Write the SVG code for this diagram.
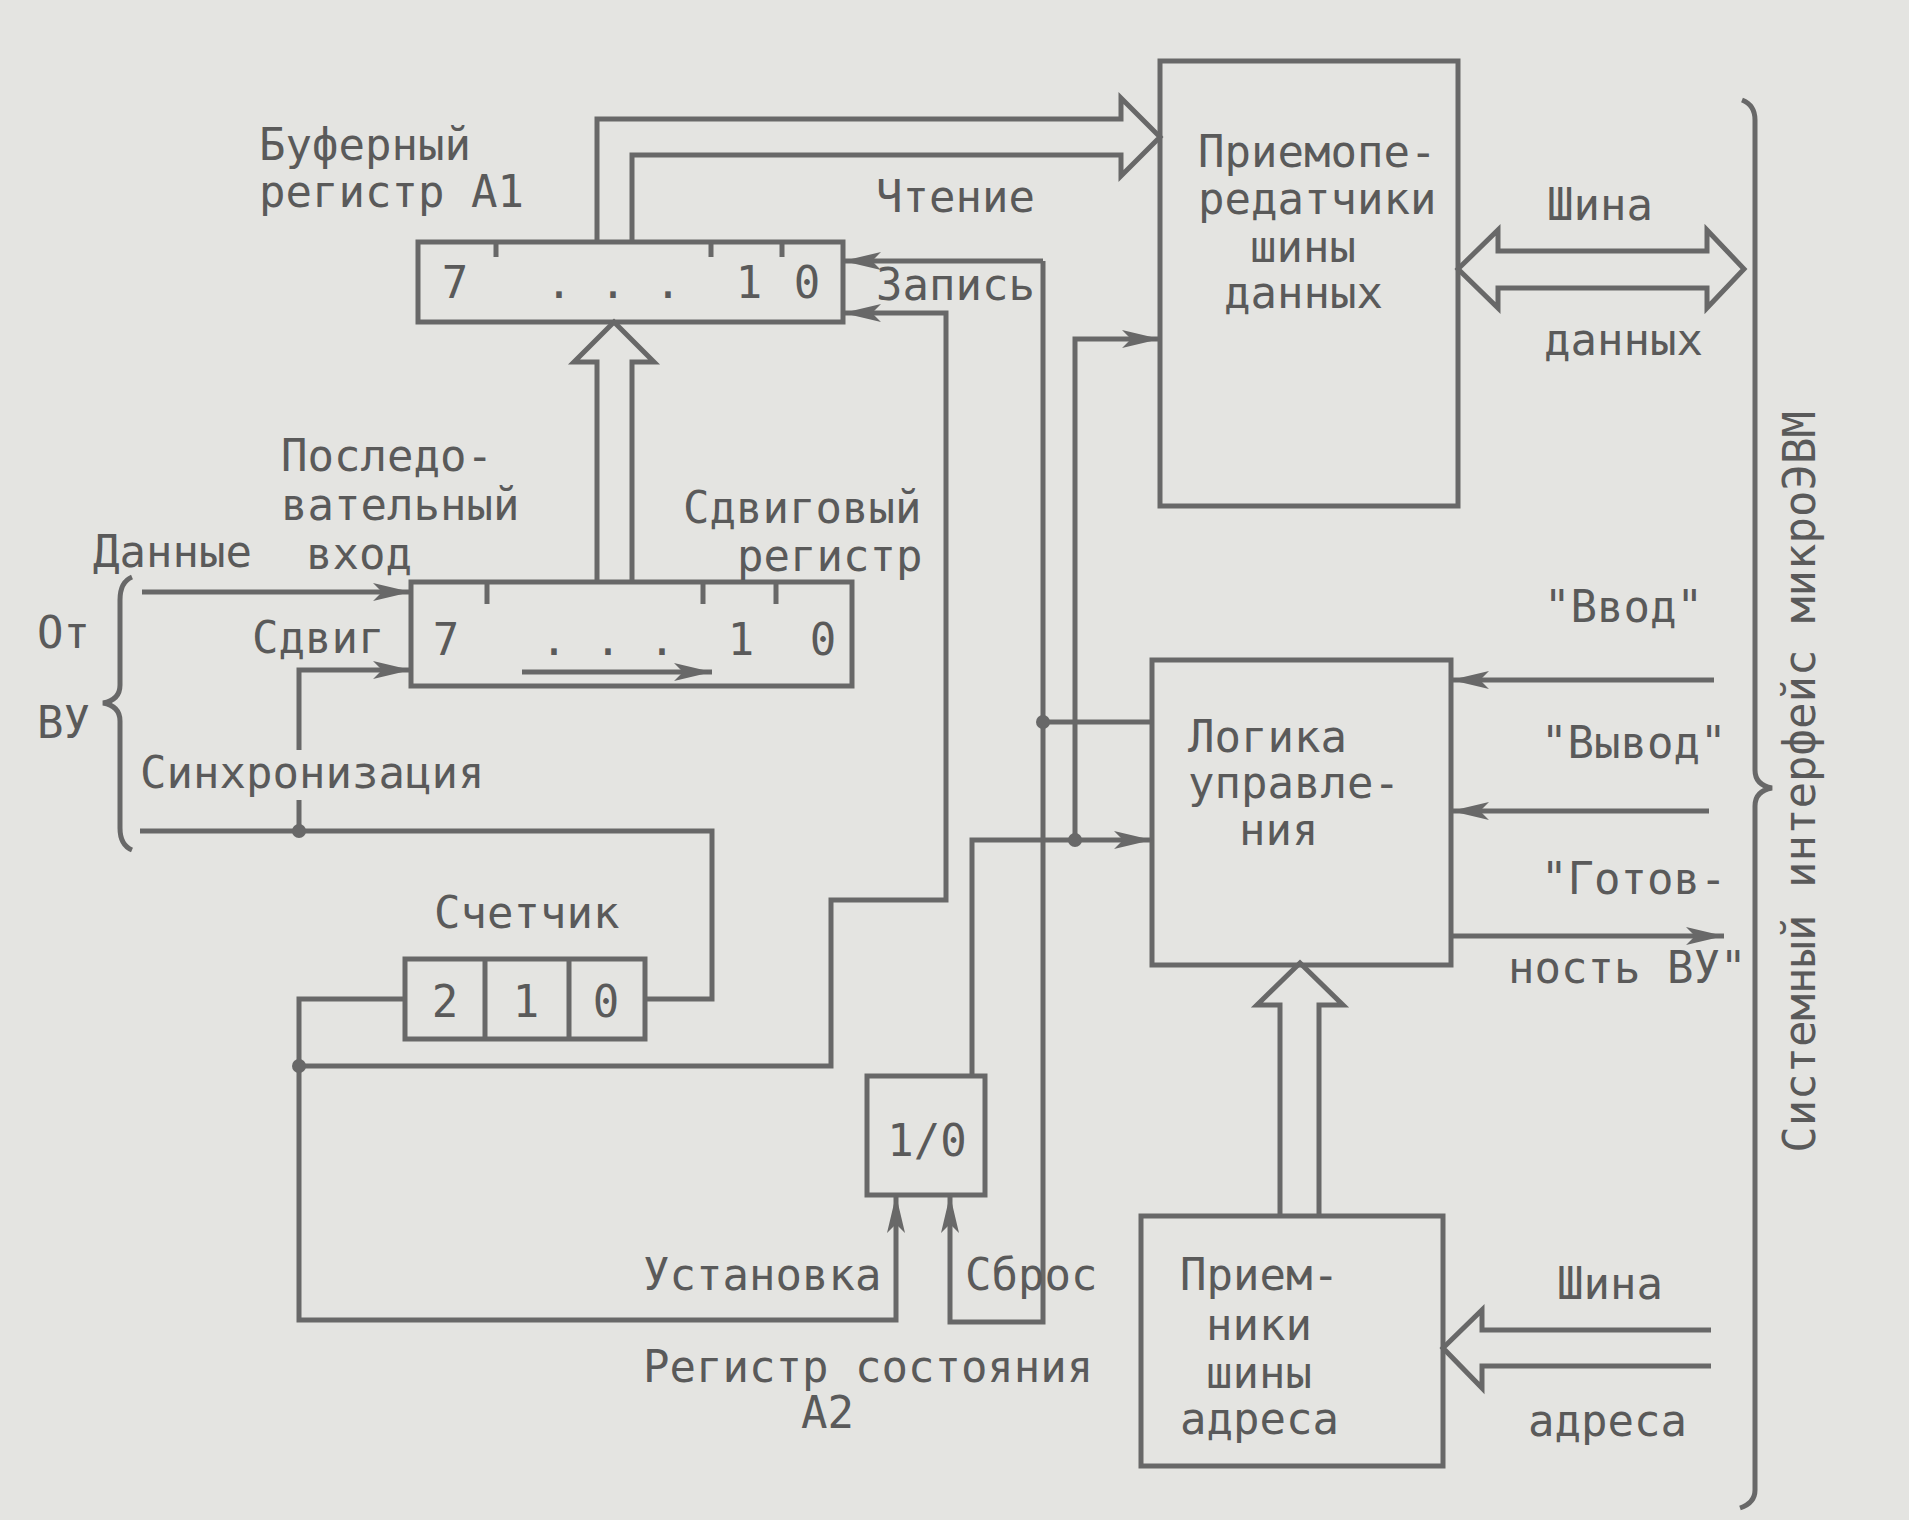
<svg xmlns="http://www.w3.org/2000/svg" width="1909" height="1520" viewBox="0 0 1909 1520">
<style>
.t{font-family:"DejaVu Sans Mono","Liberation Mono",monospace;font-size:44px;fill:#5a5a5a}
.c{text-anchor:middle}
.b{fill:none;stroke:#686868;stroke-width:5}
.w{fill:none;stroke:#686868;stroke-width:5;stroke-linejoin:miter}
.d{fill:#686868}
</style>
<defs>
<marker id="ah" markerUnits="userSpaceOnUse" markerWidth="44" markerHeight="24" viewBox="-40 -12 44 24" refX="0" refY="0" orient="auto">
<path d="M0,0 L-38,-9 L-29,0 L-38,9 Z" fill="#686868"/>
</marker>
</defs>
<rect x="0" y="0" width="1909" height="1520" fill="#e4e4e1"/>

<g id="buffer-register">
<rect class="b" x="418" y="242" width="425" height="80"/>
<path class="b" d="M496,242 v15 M711,242 v15 M782,242 v15"/>
<text class="t c" x="455" y="298">7</text>
<text class="t c" x="559" y="298">.</text>
<text class="t c" x="613" y="298">.</text>
<text class="t c" x="668" y="298">.</text>
<text class="t c" x="749" y="298">1</text>
<text class="t c" x="807" y="298">0</text>
<text class="t" x="259" y="160">Буферный</text>
<text class="t" x="259" y="207">регистр А1</text>
</g>

<g id="shift-register">
<rect class="b" x="411" y="582" width="441" height="104"/>
<path class="b" d="M487,582 v22 M703,582 v22 M776,582 v22"/>
<text class="t c" x="446" y="655">7</text>
<text class="t c" x="554" y="655">.</text>
<text class="t c" x="608" y="655">.</text>
<text class="t c" x="662" y="655">.</text>
<text class="t c" x="741" y="655">1</text>
<text class="t c" x="823" y="655">0</text>
<path class="b" d="M522,672 H712" marker-end="url(#ah)"/>
<text class="t" x="683" y="523">Сдвиговый</text>
<text class="t" x="737" y="571">регистр</text>
</g>

<g id="counter">
<rect class="b" x="405" y="959" width="240" height="80"/>
<path class="b" d="M485,959 V1039 M569,959 V1039"/>
<text class="t c" x="445" y="1017">2</text>
<text class="t c" x="526" y="1017">1</text>
<text class="t c" x="606" y="1017">0</text>
<text class="t" x="434" y="928">Счетчик</text>
</g>

<g id="status-register">
<rect class="b" x="867" y="1076" width="118" height="119"/>
<text class="t c" x="927" y="1156">1/0</text>
<text class="t" x="643" y="1382">Регистр состояния</text>
<text class="t" x="801" y="1428">А2</text>
</g>

<g id="transceivers">
<rect class="b" x="1160" y="61" width="298" height="445"/>
<text class="t" x="1198" y="167">Приемопе-</text>
<text class="t" x="1198" y="214">редатчики</text>
<text class="t" x="1250" y="262">шины</text>
<text class="t" x="1224" y="308">данных</text>
</g>

<g id="control-logic">
<rect class="b" x="1152" y="660" width="299" height="305"/>
<text class="t" x="1188" y="752">Логика</text>
<text class="t" x="1188" y="798">управле-</text>
<text class="t" x="1239" y="845">ния</text>
</g>

<g id="address-receivers">
<rect class="b" x="1141" y="1216" width="302" height="250"/>
<text class="t" x="1180" y="1290">Прием-</text>
<text class="t" x="1206" y="1340">ники</text>
<text class="t" x="1206" y="1388">шины</text>
<text class="t" x="1180" y="1434">адреса</text>
</g>

<g id="device-side">
<path class="b" d="M132,577 Q120,582 120,600 V685 Q120,700 103,703 Q120,706 120,721 V828 Q120,845 132,850"/>
<text class="t" x="37" y="648">От</text>
<text class="t" x="37" y="738">ВУ</text>
</g>

<g id="system-interface">
<path class="b" d="M1742,100 Q1755,105 1755,120 V770 Q1755,785 1772,788 Q1755,791 1755,806 V1490 Q1755,1503 1740,1508"/>
<text class="t c" transform="translate(1815,782) rotate(-90)" x="0" y="0">Системный интерфейс микроЭВМ</text>
</g>

<g id="connectors">
<path class="w" d="M597,242 V119 H1121 V98 L1160,137 L1121,176 V155 H632 V242"/>
<path class="w" d="M597,582 V362 H574 L614,322 L654,362 H632 V582"/>
<path class="w" d="M1458,269 L1498,230 V251 H1707 V230 L1744,269 L1707,308 V288 H1498 V308 Z"/>
<path class="w" d="M1280,1216 V1005 H1257 L1300,963 L1343,1005 H1319 V1216"/>
<path class="w" d="M1711,1330 H1482 V1310 L1443,1348 L1482,1388 V1366 H1711"/>
<path class="b" d="M142,592 H411" marker-end="url(#ah)"/>
<path class="b" d="M299,831 V800 M299,750 V670 H411" marker-end="url(#ah)"/>
<path class="b" d="M140,831 H712 V999 H645"/>
<path class="b" d="M405,999 H299 V1320 H896 V1195" marker-end="url(#ah)"/>
<path class="b" d="M299,1066 H831 V900 H946 V313 H843" marker-end="url(#ah)"/>
<path class="b" d="M1043,261 H843" marker-end="url(#ah)"/>
<path class="b" d="M1043,261 V1322 H950 V1195" marker-end="url(#ah)"/>
<path class="b" d="M1152,722 H1043"/>
<path class="b" d="M972,1076 V840 H1152" marker-end="url(#ah)"/>
<path class="b" d="M1075,840 V339 H1160" marker-end="url(#ah)"/>
<path class="b" d="M1714,680 H1451" marker-end="url(#ah)"/>
<path class="b" d="M1709,811 H1451" marker-end="url(#ah)"/>
<path class="b" d="M1451,936 H1724" marker-end="url(#ah)"/>
<circle class="d" cx="299" cy="831" r="7"/>
<circle class="d" cx="299" cy="1066" r="7"/>
<circle class="d" cx="1043" cy="722" r="7"/>
<circle class="d" cx="1075" cy="840" r="7"/>
</g>

<g id="labels">
<text class="t" x="876" y="212">Чтение</text>
<text class="t" x="876" y="300">Запись</text>
<text class="t" x="281" y="471">Последо-</text>
<text class="t" x="281" y="520">вательный</text>
<text class="t" x="306" y="569">вход</text>
<text class="t" x="93" y="567">Данные</text>
<text class="t" x="252" y="653">Сдвиг</text>
<text class="t" x="140" y="788">Синхронизация</text>
<text class="t" x="643" y="1290">Установка</text>
<text class="t" x="965" y="1290">Сброс</text>
<text class="t" x="1547" y="220">Шина</text>
<text class="t" x="1544" y="355">данных</text>
<text class="t" x="1544" y="622">"Ввод"</text>
<text class="t" x="1541" y="758">"Вывод"</text>
<text class="t" x="1541" y="894">"Готов-</text>
<text class="t" x="1508" y="983">ность ВУ"</text>
<text class="t" x="1557" y="1299">Шина</text>
<text class="t" x="1528" y="1436">адреса</text>
</g>
</svg>
